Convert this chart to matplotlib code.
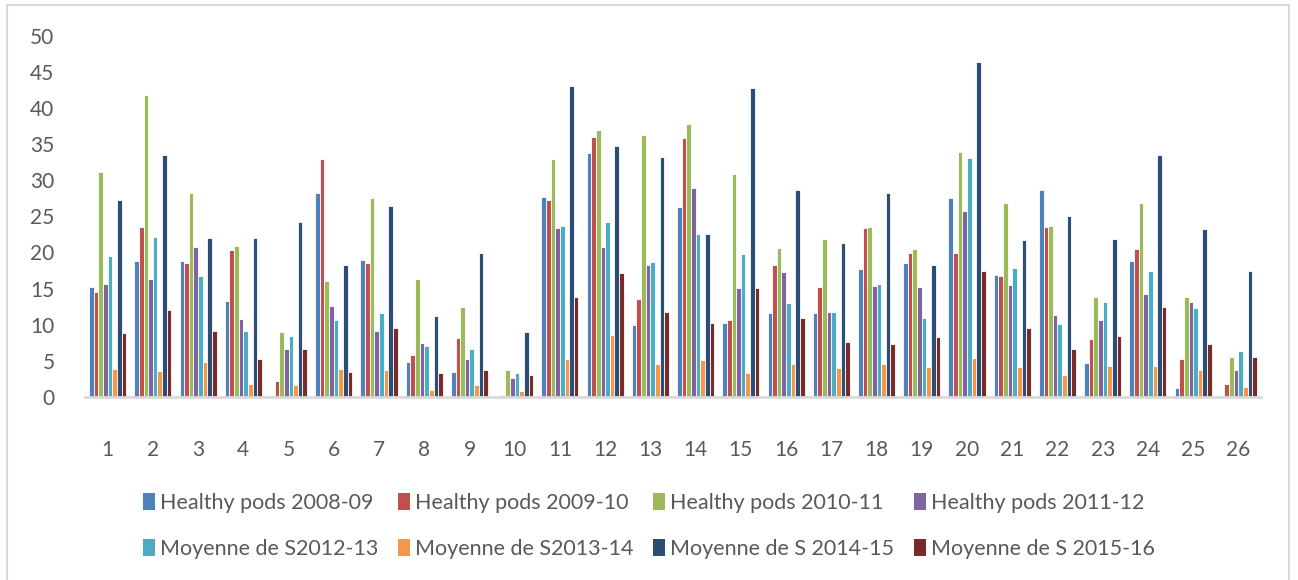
import numpy as np
import matplotlib
matplotlib.use('Agg')
import matplotlib.pyplot as plt
from matplotlib.patches import Rectangle, Patch

plt.rcParams['font.family'] = ['Lato', 'DejaVu Sans']

categories = [str(i) for i in range(1, 27)]

hp_2008 = [15.2, 18.8, 18.8, 13.3, 0.1, 28.3, 19.0, 4.8, 3.5, 0.0, 27.7, 33.7, 10.0,
           26.3, 10.2, 11.6, 11.6, 17.7, 18.5, 27.5, 16.9, 28.7, 4.7, 18.8, 1.3, 0.0]
hp_2009 = [14.6, 23.5, 18.6, 20.3, 2.2, 33.0, 18.5, 5.8, 8.2, 0.3, 27.3, 36.0, 13.5,
           35.9, 10.6, 18.2, 15.2, 23.4, 19.9, 19.9, 16.8, 23.5, 8.0, 20.5, 5.3, 1.8]
hp_2010 = [31.1, 41.8, 28.3, 20.9, 9.0, 16.0, 27.5, 16.3, 12.4, 3.7, 33.0, 36.9, 36.2,
           37.8, 30.9, 20.6, 21.8, 23.5, 20.5, 33.9, 26.8, 23.7, 13.9, 26.8, 13.8, 5.5]
hp_2011 = [15.6, 16.3, 20.8, 10.8, 6.6, 12.6, 9.1, 7.5, 5.2, 2.6, 23.4, 20.8, 18.2,
           28.9, 15.1, 17.3, 11.7, 15.4, 15.2, 25.8, 15.5, 11.3, 10.6, 14.3, 13.1, 3.8]
s_2012 = [19.5, 22.2, 16.8, 9.2, 8.5, 10.6, 11.6, 7.0, 6.6, 3.3, 23.6, 24.2, 18.7,
          22.5, 19.8, 13.0, 11.7, 15.7, 10.9, 33.1, 17.8, 10.1, 13.2, 17.4, 12.3, 6.3]
s_2013 = [3.9, 3.6, 4.9, 1.8, 1.6, 3.9, 3.8, 1.0, 1.6, 0.8, 5.3, 8.6, 4.5,
          5.1, 3.3, 4.6, 4.0, 4.6, 4.2, 5.4, 4.2, 3.1, 4.3, 4.3, 3.8, 1.4]
s_2014 = [27.2, 33.5, 22.0, 22.0, 24.2, 18.2, 26.4, 11.2, 19.9, 9.0, 43.0, 34.8, 33.2,
          22.6, 42.7, 28.7, 21.3, 28.2, 18.3, 46.3, 21.7, 25.1, 21.9, 33.5, 23.2, 17.5]
s_2015 = [8.9, 12.0, 9.2, 5.3, 6.6, 3.5, 9.5, 3.3, 3.7, 3.0, 13.9, 17.2, 11.7,
          10.2, 15.1, 10.9, 7.6, 7.4, 8.3, 17.5, 9.6, 6.6, 8.5, 12.4, 7.4, 5.5]

labels = ['Healthy pods 2008-09', 'Healthy pods 2009-10', 'Healthy pods 2010-11',
          'Healthy pods 2011-12', 'Moyenne de S2012-13', 'Moyenne de S2013-14',
          'Moyenne de S 2014-15', 'Moyenne de S 2015-16']
colors = ['#4F81BD', '#C0504D', '#9BBB59', '#8064A2',
          '#4BACC6', '#F79646', '#2C4D75', '#772C2A']
series = [hp_2008, hp_2009, hp_2010, hp_2011, s_2012, s_2013, s_2014, s_2015]

W, H = 1298, 580
fig = plt.figure(figsize=(W / 100, H / 100), dpi=100)
# chart-area border (bottom edge is cut off in the original)
fig.patches.append(Rectangle((7 / W, -0.1), (1289 - 7) / W, 1.1 - 5 / H,
                             transform=fig.transFigure, fill=False,
                             edgecolor='#D9D9D9', linewidth=1.5))

ax = fig.add_axes([85 / W, 1 - 397 / H, 1176 / W, (397 - 35.7) / H])

x = np.arange(len(categories))
n = len(series)
group = 0.82
bw = group / n
for i, (vals, col, lab) in enumerate(zip(series, colors, labels)):
    ax.bar(x - group / 2 + bw * (i + 0.5), vals, width=bw, color=col, label=lab,
           edgecolor='white', linewidth=0.6)

ax.set_xlim(-0.5, len(categories) - 0.5)
ax.set_ylim(0, 50)
ax.set_yticks(range(0, 51, 5))
ax.set_xticks(x)
ax.set_xticklabels(categories)
for s in ['top', 'right', 'left']:
    ax.spines[s].set_visible(False)
ax.spines['bottom'].set_color('#D9D9D9')
ax.spines['bottom'].set_linewidth(2)
ax.tick_params(axis='both', length=0, labelsize=15, colors='#595959')
ax.tick_params(axis='y', pad=22)
ax.tick_params(axis='x', pad=31)

# legend filled row by row like the original (4 per row)
order = [0, 4, 1, 5, 2, 6, 3, 7]
handles = [Patch(facecolor=colors[k], edgecolor='none') for k in order]
fig.legend(handles, [labels[k] for k in order], ncol=4, loc='center',
           bbox_to_anchor=(0.5, 1 - 526 / H), frameon=False, fontsize=15.5,
           labelcolor='#595959', handlelength=0.55, handleheight=0.8,
           handletextpad=0.25, columnspacing=0.9, labelspacing=1.2)

fig.savefig('out.png', dpi=100)
